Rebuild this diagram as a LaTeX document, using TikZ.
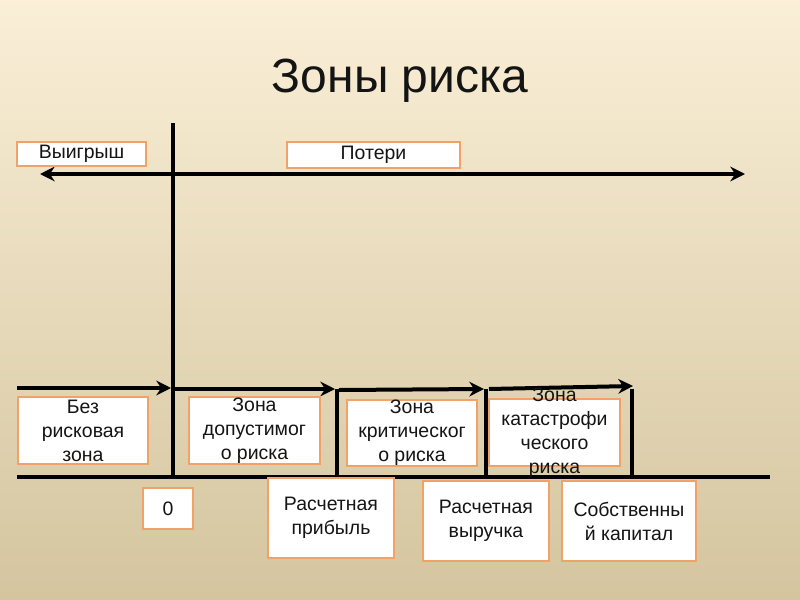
\documentclass[tikz,border=0pt]{standalone}
\usepackage{fontspec}
\setmainfont{Liberation Sans}
\usetikzlibrary{arrows.meta}
\definecolor{bgtop}{HTML}{FAEFD7}
\definecolor{bgmid}{HTML}{F2E9D0}
\definecolor{bgbot}{HTML}{D4C59F}
\definecolor{boxedge}{HTML}{F2A266}
\definecolor{ink}{HTML}{141414}
\tikzset{
  zbox/.style={draw=boxedge, fill=white, line width=1.6pt, inner sep=0pt,
    align=center, text=ink, font=\fontsize{14.6}{18}\selectfont},
  axisline/.style={line width=3pt, black},
  zarrow/.style={line width=3pt, black, -{Stealth[length=11pt,width=11pt]}},
}
\begin{document}
\begin{tikzpicture}[x=0.75pt,y=-0.75pt]
\shade[top color=bgtop, middle color=bgmid, bottom color=bgbot] (0,0) rectangle (800,600);
\useasboundingbox (0,0) rectangle (800,600);

\node[anchor=base, text=ink, font=\fontsize{36}{40}\selectfont] (title) at (400,92) {Зоны риска};

% axes
\coordinate (vtop) at (173,123);
\coordinate (vbot) at (173,477);
\coordinate (hl) at (40,174);
\coordinate (hr) at (745,174);
\coordinate (bl) at (17,477);
\coordinate (br) at (770,477);
\draw[axisline] (vtop) -- (vbot);
\draw[line width=2.6pt, black, {Stealth[length=11pt,width=11pt]}-{Stealth[length=11pt,width=11pt]}] (hl) -- (hr);
\draw[axisline] (bl) -- (br);

% zone arrows and separators
\coordinate (a1s) at (17,388);  \coordinate (a1e) at (171,388);
\coordinate (a2s) at (174,389); \coordinate (a2e) at (335,389);
\coordinate (a3s) at (339,390); \coordinate (a3e) at (484,389);
\coordinate (a4s) at (489,389); \coordinate (a4e) at (633,386);
\coordinate (s2t) at (337,389); \coordinate (s2b) at (337,477);
\coordinate (s3t) at (486,389); \coordinate (s3b) at (486,477);
\coordinate (s4t) at (632,389); \coordinate (s4b) at (632,477);
\draw[zarrow] (a1s) -- (a1e);
\draw[zarrow] (a2s) -- (a2e);
\draw[zarrow] (a3s) -- (a3e);
\draw[zarrow] (a4s) -- (a4e);
\draw[axisline] (s2t) -- (s2b);
\draw[axisline] (s3t) -- (s3b);
\draw[axisline] (s4t) -- (s4b);

% label boxes
\node[zbox, minimum width=97pt, minimum height=18pt] (win) at (81.5,154) {Выигрыш};
\node[zbox, minimum width=130pt, minimum height=19.5pt] (loss) at (373.5,155) {Потери};

\node[zbox, minimum width=97.5pt, minimum height=50pt] (z1) at (83,430.5) {Без\\рисковая\\зона};
\node[zbox, minimum width=98pt, minimum height=50pt] (z2) at (254.5,430.5) {Зона\\допустимог\\о риска};
\node[zbox, minimum width=97.5pt, minimum height=49.5pt] (z3) at (412,433) {Зона\\критическог\\о риска};
\node[draw=boxedge, fill=white, line width=1.6pt, minimum width=98pt, minimum height=50pt] (z4box) at (554.5,432.5) {};
\node[align=center, text=ink, font=\fontsize{14.6}{18}\selectfont, inner sep=0pt] (z4) at (554.5,432.5) {Зона\\катастрофи\\ческого\\риска};

\node[zbox, minimum width=37.5pt, minimum height=31pt] (zero) at (168,508.5) {0};
\node[zbox, minimum width=94.5pt, minimum height=60pt] (profit) at (331,518) {Расчетная\\прибыль};
\node[zbox, minimum width=94.5pt, minimum height=60pt] (revenue) at (486,521) {Расчетная\\выручка};
\node[zbox, minimum width=100.5pt, minimum height=60pt] (capital) at (629,521) {Собственны\\й капитал};
\end{tikzpicture}
\end{document}
